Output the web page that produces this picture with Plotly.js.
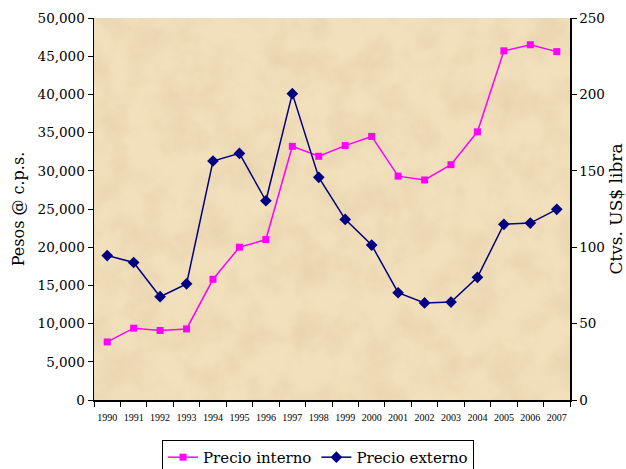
<!DOCTYPE html>
<html>
<head>
<meta charset="utf-8">
<script src="https://cdn.plot.ly/plotly-3.0.1.min.js"></script>
<style>html,body{margin:0;padding:0;background:#fff;}#chart{width:626px;height:469px;}</style>
</head>
<body>
<div id="chart"></div>
<script>
const years = ["1990","1991","1992","1993","1994","1995","1996","1997","1998","1999","2000","2001","2002","2003","2004","2005","2006","2007"];
const precioInterno = [7600, 9400, 9100, 9300, 15800, 20000, 21000, 33200, 31900, 33300, 34500, 29300, 28800, 30800, 35100, 45700, 46500, 45600];
const precioExterno = [94.5, 90, 67.6, 76, 156.4, 161.4, 130.4, 200.5, 145.7, 118.2, 101.4, 70.2, 63.5, 64.1, 80.3, 115, 115.8, 124.8];
const leftTicks = [0, 5000, 10000, 15000, 20000, 25000, 30000, 35000, 40000, 45000, 50000];
const rightTicks = [0, 50, 100, 150, 200, 250];

const svg = "<svg xmlns='http://www.w3.org/2000/svg' width='476' height='382'>" +
  "<filter id='f'><feTurbulence type='fractalNoise' baseFrequency='0.03' numOctaves='4' seed='7'/>" +
  "<feColorMatrix values='0 0 0 0 0.78  0 0 0 0 0.62  0 0 0 0 0.40  0 0 0 1.8 -0.6'/></filter>" +
  "<rect width='476' height='382' fill='#F2E0BC'/>" +
  "<rect width='476' height='382' filter='url(#f)' opacity='0.7'/></svg>";
const bg = "data:image/svg+xml;charset=utf-8," + encodeURIComponent(svg);

const serif = "DejaVu Serif, serif";
const serif2 = "Liberation Serif, serif";

const traces = [
  {
    x: years, y: precioInterno, name: "Precio interno", type: "scatter", mode: "lines+markers",
    line: {color: "#FF00FF", width: 1.5},
    marker: {symbol: "square", size: 7, color: "#FF00FF"},
    yaxis: "y"
  },
  {
    x: years, y: precioExterno, name: "Precio externo", type: "scatter", mode: "lines+markers",
    line: {color: "#000080", width: 1.5},
    marker: {symbol: "diamond", size: 9, color: "#000080"},
    yaxis: "y2"
  }
];

const layout = {
  width: 626, height: 469,
  margin: {l: 94, r: 56, t: 18, b: 69},
  paper_bgcolor: "#ffffff",
  plot_bgcolor: "#F0DDB8",
  showlegend: true,
  font: {family: serif, color: "#000", size: 14},
  images: [{
    source: bg, xref: "paper", yref: "paper", x: 0, y: 1, sizex: 1, sizey: 1,
    sizing: "stretch", layer: "below", xanchor: "left", yanchor: "top"
  }],
  xaxis: {
    type: "category",
    tickson: "boundaries",
    ticks: "outside", ticklen: 5, tickcolor: "#000", tickwidth: 1,
    showline: true, linecolor: "#000", linewidth: 1.5,
    showgrid: false, zeroline: false,
    tickfont: {family: serif2, size: 10, color: "#000"},
    ticklabelstandoff: 7,
    tickangle: 0,
    range: [-0.5, 17.5],
    automargin: false,
    fixedrange: true
  },
  yaxis: {
    range: [0, 50000],
    tickvals: leftTicks,
    tickformat: ",",
    ticks: "outside", ticklen: 5, tickcolor: "#000",
    showline: true, linecolor: "#000", linewidth: 1.5,
    showgrid: false, zeroline: false,
    automargin: false,
    tickfont: {family: serif, size: 13.5, color: "#000"},
    title: {text: "Pesos @ c.p.s.", font: {family: serif, size: 16, color: "#000"}, standoff: 9}
  },
  yaxis2: {
    overlaying: "y", side: "right",
    range: [0, 250],
    tickvals: rightTicks,
    ticks: "outside", ticklen: 5, tickcolor: "#000",
    showline: true, linecolor: "#000", linewidth: 1.5,
    showgrid: false, zeroline: false,
    automargin: false,
    tickfont: {family: serif, size: 13.5, color: "#000"},
    title: {text: "Ctvs. US$ libra", font: {family: serif, size: 17, color: "#000"}, standoff: 14}
  },
  legend: {
    orientation: "h",
    xref: "container", yref: "container",
    x: 0.508, xanchor: "center",
    y: 0.062, yanchor: "top",
    bordercolor: "#000", borderwidth: 1,
    bgcolor: "#ffffff",
    font: {family: serif, size: 15, color: "#000"},
    itemwidth: 30,
    tracegroupgap: 0
  }
};

Plotly.newPlot("chart", traces, layout, {displayModeBar: false, staticPlot: true});
</script>
</body>
</html>
